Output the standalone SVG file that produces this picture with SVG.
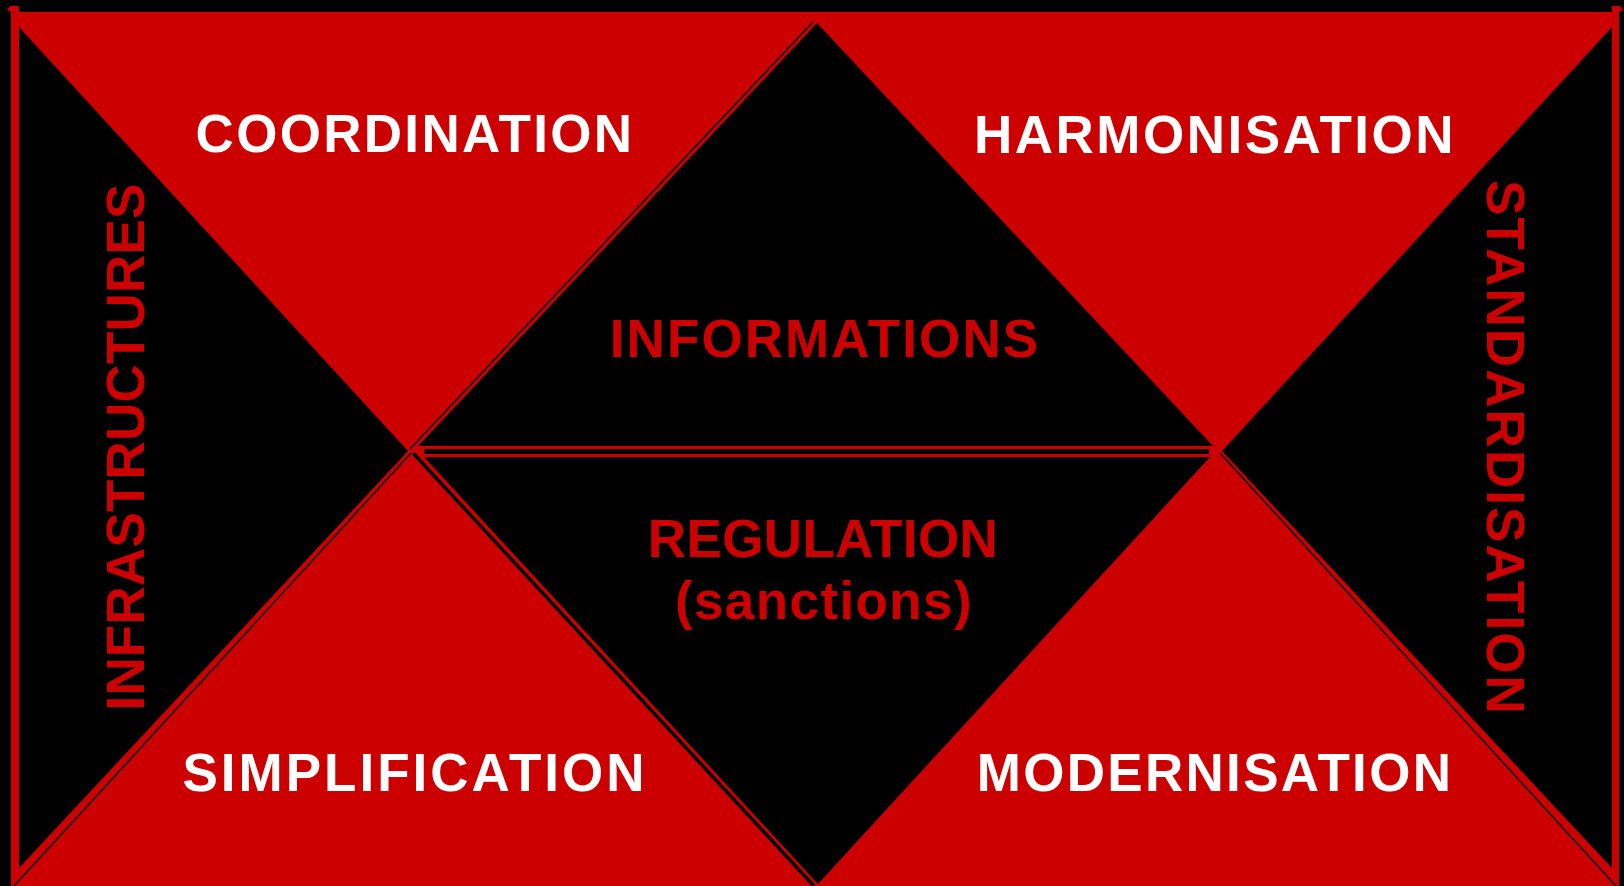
<svg xmlns="http://www.w3.org/2000/svg" width="1624" height="886" viewBox="0 0 1624 886">
<style>
.red{fill:#cc0000}
.blk{fill:#000000}
.ln{stroke:#000000;fill:none}
.t{font-family:"Liberation Sans",Arial,sans-serif;font-weight:bold;font-size:53px;text-anchor:middle}
.w{fill:#ffffff}
.r{fill:#cc0000}
</style>
<rect x="0" y="0" width="1624" height="886" fill="#000000"/>
<g id="frame">
<rect class="red" x="11" y="12" width="1608" height="874"/>
<rect class="red" x="11" y="6" width="8" height="8"/>
<rect class="red" x="1612" y="6" width="7" height="8"/>
<polygon class="red" points="7,10 11,5 11,12"/>
<polygon class="red" points="1623,10 1619,5 1619,12"/>
</g>
<g id="infrastructures">
<polygon class="blk" points="19,27 19,868 408,451"/>
<text class="t r" letter-spacing="0.2" transform="translate(144,447) rotate(-90)">INFRASTRUCTURES</text>
</g>
<g id="standardisation">
<polygon class="blk" points="1612,27 1612,868 1222,451"/>
<text class="t r" letter-spacing="2.1" transform="translate(1487,448) rotate(90)">STANDARDISATION</text>
</g>
<g id="informations">
<polygon class="blk" points="817,23 418,446 1213,446"/>
<text class="t r" letter-spacing="2.1" x="825" y="357">INFORMATIONS</text>
</g>
<g id="regulation">
<polygon class="blk" points="424,457 1210,457 818,884"/>
<text class="t r" font-size="52" letter-spacing="0.4" x="823" y="557">REGULATION</text>
<text class="t r" font-size="52" letter-spacing="1.4" x="824" y="619">(sanctions)</text>
</g>
<g id="coordination">
<text class="t w" letter-spacing="2.3" x="415" y="152">COORDINATION</text>
</g>
<g id="harmonisation">
<text class="t w" letter-spacing="2.5" x="1215" y="153">HARMONISATION</text>
</g>
<g id="simplification">
<text class="t w" letter-spacing="3" x="415" y="791">SIMPLIFICATION</text>
</g>
<g id="modernisation">
<text class="t w" letter-spacing="2.3" x="1215" y="791">MODERNISATION</text>
</g>
<g id="connectors">
<line class="ln" stroke-width="1.5" x1="813" y1="22" x2="410" y2="449"/>
<line class="ln" stroke-width="3.5" x1="413" y1="453" x2="814" y2="886"/>
<line class="ln" stroke-width="1.5" x1="411" y1="453" x2="14" y2="886"/>
<line class="ln" stroke-width="1.5" x1="1220" y1="453" x2="1616" y2="886"/>
<rect class="blk" x="424" y="449" width="785" height="5"/>
</g>
</svg>
